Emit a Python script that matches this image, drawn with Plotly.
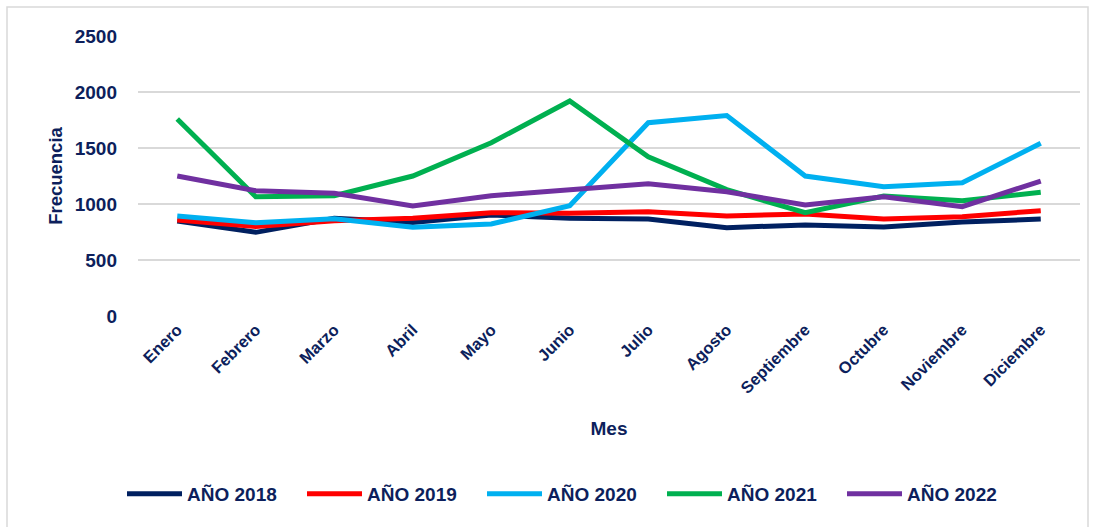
import plotly.graph_objects as go

months = ["Enero", "Febrero", "Marzo", "Abril", "Mayo", "Junio", "Julio",
          "Agosto", "Septiembre", "Octubre", "Noviembre", "Diciembre"]

y2018 = [848, 747, 872, 836, 902, 872, 866, 789, 813, 795, 839, 866]
y2019 = [858, 800, 851, 872, 922, 917, 931, 893, 911, 866, 887, 940]
y2020 = [893, 833, 869, 792, 821, 985, 1726, 1789, 1250, 1155, 1190, 1542]
y2021 = [1759, 1065, 1074, 1250, 1547, 1920, 1422, 1128, 922, 1071, 1030, 1104]
y2022 = [1250, 1119, 1095, 982, 1074, 1125, 1180, 1110, 991, 1065, 976, 1205]

series = [
    ("AÑO 2018", y2018, "#002060"),
    ("AÑO 2019", y2019, "#FF0000"),
    ("AÑO 2020", y2020, "#00B0F0"),
    ("AÑO 2021", y2021, "#00B050"),
    ("AÑO 2022", y2022, "#7030A0"),
]

TXT = "#0D1F5C"
FONT = "Liberation Sans"

fig = go.Figure()
for name, vals, col in series:
    fig.add_trace(go.Scatter(x=months, y=vals, name=name, mode="lines",
                             line=dict(color=col, width=5)))

W, H = 1096, 527
L, R, T, B = 138, 16, 36, 211
pw, ph = W - L - R, H - T - B

def px(xp):
    return (xp - L) / pw

def py(yp):
    return (H - B - yp) / ph

fig.add_shape(type="rect", xref="paper", yref="paper",
              x0=px(7), x1=px(1088), y0=py(540), y1=py(7),
              line=dict(color="#D9D9D9", width=1.5), fillcolor="rgba(0,0,0,0)",
              layer="below")

fig.update_layout(
    width=W, height=H,
    margin=dict(l=L, r=R, t=T, b=B, autoexpand=False),
    plot_bgcolor="white", paper_bgcolor="white",
    font=dict(family=FONT, color=TXT, size=17),
    xaxis=dict(
        tickangle=-45, showgrid=False, showline=False, ticks="",
        tickfont=dict(family=FONT, size=16.5, color=TXT, weight="bold"),
        title=dict(text="<b>Mes</b>", font=dict(family=FONT, size=19, color=TXT),
                   standoff=25),
        range=[-0.5, 11.5],
    ),
    yaxis=dict(
        range=[0, 2500], dtick=500, showgrid=True, gridcolor="#D9D9D9", gridwidth=1.5,
        zeroline=False, showline=False, ticks="",
        tickfont=dict(family=FONT, size=19, color=TXT, weight="bold"),
        ticklabelstandoff=20,
        title=dict(text="<b>Frecuencia</b>", font=dict(family=FONT, size=18.5, color=TXT),
                   standoff=7),
    ),
    legend=dict(
        orientation="h", x=px(122), xanchor="left", y=py(494), yanchor="middle",
        font=dict(family=FONT, size=19, color=TXT, weight="bold"),
        itemwidth=55, entrywidth=110, entrywidthmode="pixels",
        traceorder="normal",
    ),
    showlegend=True,
)

fig.write_html("out.html", config={"displayModeBar": False},
               post_script="document.body.style.margin='0';document.body.style.padding='0';")
